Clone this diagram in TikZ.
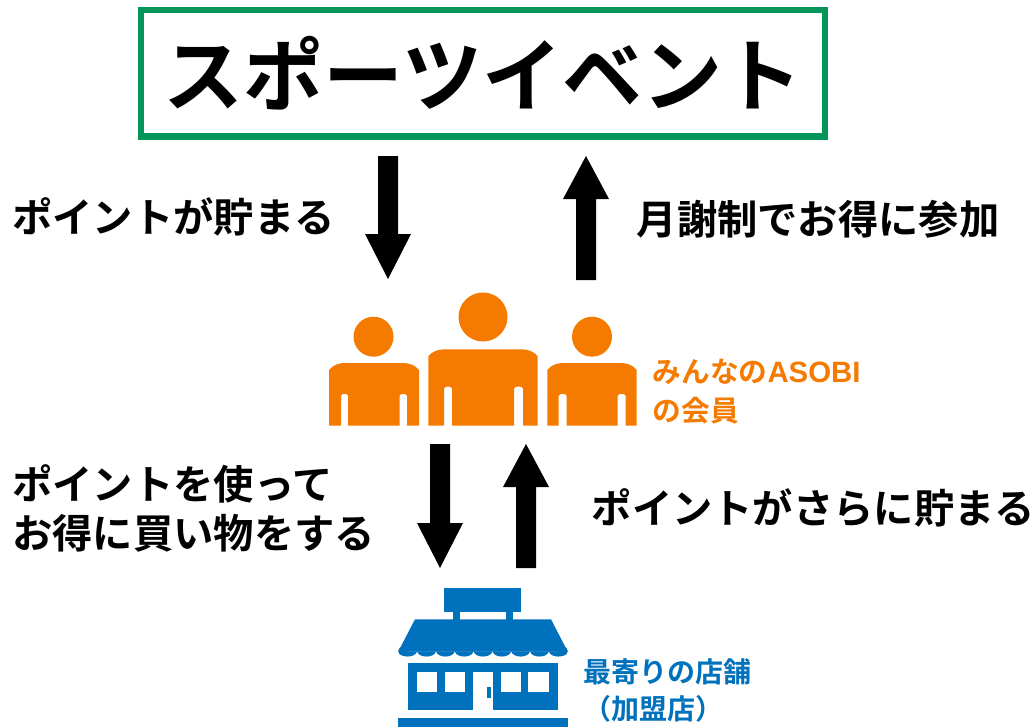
\documentclass[tikz,border=0pt]{standalone}
\usepackage{fontspec}
\newfontfamily\jp{Noto Sans CJK JP}[BoldFont={Noto Sans CJK JP Bold}]
\newfontfamily\lat{Liberation Sans}
\definecolor{evgreen}{HTML}{049658}
\definecolor{memorange}{HTML}{F57A00}
\definecolor{shopblue}{HTML}{0071BC}
\tikzset{
  x=1pt,y=-1pt,
  bigarrow/.style={fill=black,draw=none},
  lab/.style={font=\jp\bfseries\fontsize{40.3}{49}\selectfont,text=black,anchor=west,align=left,inner sep=0pt},
  orglab/.style={font=\jp\bfseries\fontsize{28.7}{38.6}\selectfont,text=memorange,anchor=west,align=left,inner sep=0pt},
  blulab/.style={font=\jp\bfseries\fontsize{28}{37.5}\selectfont,text=shopblue,anchor=west,align=left,inner sep=0pt},
  pers/.style={fill=memorange,draw=none},
  shop/.style={fill=shopblue,draw=none},
}
\newcommand{\arrowdown}[3]{% cx top bottom
  \fill[bigarrow] ({#1-10},#2) -- ({#1+10},#2) -- ({#1+10},{#3-45}) -- ({#1+23},{#3-45}) -- (#1,#3) -- ({#1-23},{#3-45}) -- ({#1-10},{#3-45}) -- cycle;}
\newcommand{\arrowup}[3]{% cx top bottom
  \fill[bigarrow] ({#1-10},#3) -- ({#1+10},#3) -- ({#1+10},{#2+43}) -- ({#1+23},{#2+43}) -- (#1,#2) -- ({#1-23},{#2+43}) -- ({#1-10},{#2+43}) -- cycle;}
\newcommand{\person}[9]{% L R top bottom gapL1 gapR1 gapL2 gapR2 gaptop
  \fill[pers] (#1,#4) -- (#1,{#3+7}) .. controls ({#1+4},{#3+2}) and ({#1+10},#3) .. ({#1+16},#3)
    -- ({#2-16},#3) .. controls ({#2-10},#3) and ({#2-4},{#3+2}) .. (#2,{#3+7}) -- (#2,#4)
    -- (#8,#4) -- (#8,{#9+2}) .. controls (#8,{#9-1}) and (#7,{#9-1}) .. (#7,{#9+2}) -- (#7,#4)
    -- (#6,#4) -- (#6,{#9+2}) .. controls (#6,{#9-1}) and (#5,{#9-1}) .. (#5,{#9+2}) -- (#5,#4) -- cycle;}
\begin{document}
\begin{tikzpicture}
\useasboundingbox (0,0) rectangle (1036,728);
\fill[white] (0,0) rectangle (1036,728);
\node[draw=evgreen,line width=6.3pt,minimum width=684pt,minimum height=126.6pt,inner sep=0pt,
  font=\jp\bfseries\fontsize{80}{96}\selectfont] (title) at (483,73.1) {スポーツイベント};
\arrowdown{388}{156}{279}
\arrowup{586}{156}{280}
\arrowdown{440}{444}{568}
\arrowup{526}{444}{568}
\node[lab] (a) at (12,217) {ポイントが貯まる};
\node[lab] (b) at (636.5,219) {月謝制でお得に参加};
\node[lab] (c) at (12,508) {ポイントを使って\\お得に買い物をする};
\node[lab] (d) at (591.5,508) {ポイントがさらに貯まる};
\node[orglab] (e) at (652.5,391.5) {みんなの{\lat\bfseries\fontsize{29.4}{38.6}\selectfont ASOBI}\\の会員};
\node[blulab] (f) at (583,690.5) {最寄りの店舗\\（加盟店）};
% people
\fill[pers] (373.5,336.7) circle[radius=20];
\fill[pers] (483,317) circle[radius=24.5];
\fill[pers] (592,336.7) circle[radius=20];
\person{329}{419}{363}{425.6}{341}{348}{399.5}{407}{394}
\person{428.3}{537.7}{349.3}{425.6}{444}{452}{514}{523}{386.7}
\person{547.3}{636.7}{363}{425.6}{558.7}{566.7}{617.7}{625.7}{394}
% shop
\fill[shop] (444.3,588.3) rectangle (521.3,611.7);
\fill[shop] (453.3,611) rectangle (460,620);
\fill[shop] (506,611) rectangle (512.7,620);
\fill[shop] (415,619.3) -- (551,619.3) -- (567.7,651.5) -- (398.3,651.5) -- cycle;
\foreach \i in {0,...,8}{
  \pgfmathsetmacro{\sx}{398.3+18.82*\i}
  \fill[shop] (\sx,651.3) .. controls ({\sx+1.5},658.3) and ({\sx+17.3},658.3) .. ({\sx+18.82},651.3) -- cycle;
}
\fill[shop] (403,651) circle[radius=4.7];
\fill[shop] (563,651) circle[radius=4.7];
\fill[shop] (407.7,663.3) rectangle (472.7,710);
\fill[shop] (493.3,663.3) rectangle (558.3,710);
\fill[shop] (472,663.3) rectangle (494,672.3);
\fill[white] (416.7,672.3) rectangle (437.3,692.3);
\fill[white] (445,672.3) rectangle (465.3,692.3);
\fill[white] (500.7,672.3) rectangle (521.3,692.3);
\fill[white] (528.3,672.3) rectangle (549.3,692.3);
\fill[shop] (486.7,687.3) rectangle (490.7,698.3);
\fill[shop] (398.3,718) rectangle (567.7,726.7);
\end{tikzpicture}
\end{document}
